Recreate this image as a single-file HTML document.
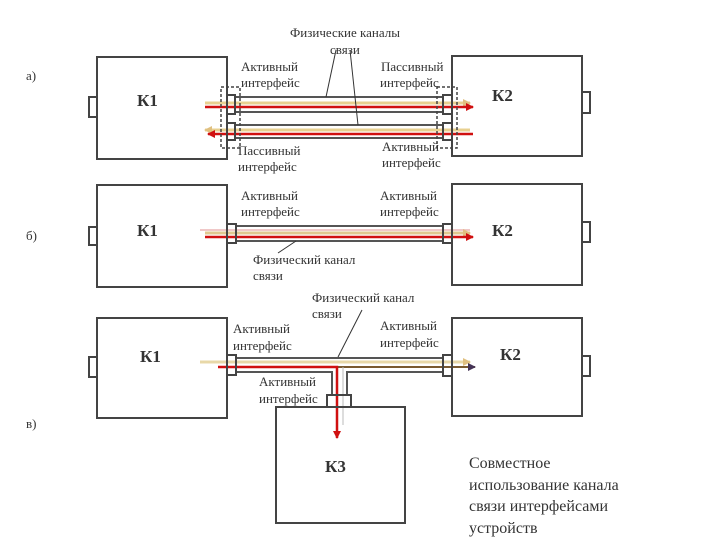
<!DOCTYPE html>
<html><head><meta charset="utf-8"><style>
html,body{margin:0;padding:0;background:#fff;width:720px;height:540px;overflow:hidden}
svg{display:block}
text{font-family:"Liberation Serif",serif;fill:#333}
.l{font-size:13px}
.k{font-size:17px;font-weight:bold}
</style></head><body>
<svg width="720" height="540" viewBox="0 0 720 540">
<defs>
<marker id="ar" markerWidth="8" markerHeight="8" refX="7" refY="4" orient="auto" markerUnits="userSpaceOnUse"><path d="M0,0 L8,4 L0,8 z" fill="#d01010"/></marker>
<marker id="ay" markerWidth="8" markerHeight="8" refX="7" refY="4" orient="auto" markerUnits="userSpaceOnUse"><path d="M0,0 L8,4 L0,8 z" fill="#e0c080"/></marker>
<marker id="ab" markerWidth="8" markerHeight="8" refX="7" refY="4" orient="auto" markerUnits="userSpaceOnUse"><path d="M0,0 L8,4 L0,8 z" fill="#443355"/></marker>
</defs>
<g fill="#fff" stroke="#444" stroke-width="2">
<!-- a -->
<rect x="97" y="57" width="130" height="102"/><rect x="89" y="97" width="8" height="20"/>
<rect x="452" y="56" width="130" height="100"/><rect x="582" y="92" width="8" height="21"/>
<!-- b -->
<rect x="97" y="185" width="130" height="102"/><rect x="89" y="227" width="8" height="18"/>
<rect x="452" y="184" width="130" height="101"/><rect x="582" y="222" width="8" height="20"/>
<!-- c -->
<rect x="97" y="318" width="130" height="100"/><rect x="89" y="357" width="8" height="20"/>
<rect x="452" y="318" width="130" height="98"/><rect x="582" y="356" width="8" height="20"/>
<rect x="276" y="407" width="129" height="116"/>
</g>
<!-- a cables -->
<g stroke="#555" stroke-width="2" fill="none">
<line x1="235" y1="97" x2="443" y2="97"/><line x1="235" y1="112" x2="443" y2="112"/>
<line x1="235" y1="125" x2="443" y2="125"/><line x1="235" y1="138" x2="443" y2="138"/>
</g>
<line x1="205" y1="103" x2="470" y2="103" stroke="#e8d090" stroke-width="3" marker-end="url(#ay)"/>
<line x1="205" y1="107" x2="473" y2="107" stroke="#d01010" stroke-width="2.5" marker-end="url(#ar)"/>
<line x1="470" y1="130" x2="205" y2="130" stroke="#e8d090" stroke-width="3" marker-end="url(#ay)"/>
<line x1="473" y1="134" x2="208" y2="134" stroke="#d01010" stroke-width="2.5" marker-end="url(#ar)"/>
<g fill="none" stroke="#444" stroke-width="2">
<rect x="227" y="95" width="8" height="19"/><rect x="227" y="123" width="8" height="17"/>
<rect x="443" y="95" width="9" height="19"/><rect x="443" y="123" width="9" height="17"/>
</g>
<g fill="none" stroke="#444" stroke-width="1.5" stroke-dasharray="3,2">
<rect x="221" y="87" width="19" height="61"/><rect x="437" y="87" width="20" height="61"/>
</g>
<g stroke="#333" stroke-width="1"><line x1="336" y1="50" x2="326" y2="97"/><line x1="350" y1="50" x2="358" y2="125"/></g>
<!-- b cables -->
<g stroke="#555" stroke-width="2"><line x1="235" y1="226" x2="443" y2="226"/><line x1="235" y1="241" x2="443" y2="241"/></g>
<line x1="200" y1="230" x2="470" y2="230" stroke="#f0c8c8" stroke-width="2"/>
<line x1="205" y1="233" x2="470" y2="233" stroke="#e0c890" stroke-width="3" marker-end="url(#ay)"/>
<line x1="205" y1="237" x2="473" y2="237" stroke="#d01010" stroke-width="2.5" marker-end="url(#ar)"/>
<g fill="none" stroke="#444" stroke-width="2"><rect x="227" y="224" width="9" height="19"/><rect x="443" y="224" width="9" height="19"/></g>
<line x1="296" y1="241" x2="278" y2="253" stroke="#333" stroke-width="1"/>
<!-- c cables -->
<g stroke="#555" stroke-width="2" fill="none">
<line x1="235" y1="358" x2="443" y2="358"/>
<polyline points="235,372 332,372 332,395"/>
<polyline points="443,372 347,372 347,395"/>
</g>
<line x1="200" y1="362" x2="470" y2="362" stroke="#e8d8a8" stroke-width="3" marker-end="url(#ay)"/>
<line x1="235" y1="367" x2="475" y2="367" stroke="#7a5a30" stroke-width="2" marker-end="url(#ab)"/>
<polyline points="218,367 337,367 337,438" fill="none" stroke="#d01010" stroke-width="2.5" marker-end="url(#ar)"/>
<line x1="343" y1="367" x2="343" y2="425" stroke="#bbb" stroke-width="1"/>
<g fill="none" stroke="#444" stroke-width="2"><rect x="227" y="355" width="9" height="20"/><rect x="443" y="355" width="9" height="21"/><rect x="327" y="395" width="24" height="12"/></g>
<line x1="362" y1="310" x2="338" y2="357" stroke="#333" stroke-width="1"/>
<!-- labels -->
<text x="26" y="80" class="l">а)</text>
<text x="26" y="240" class="l">б)</text>
<text x="26" y="428" class="l">в)</text>
<text x="137" y="106" class="k">К1</text><text x="492" y="101" class="k">К2</text>
<text x="137" y="236" class="k">К1</text><text x="492" y="236" class="k">К2</text>
<text x="140" y="362" class="k">К1</text><text x="500" y="360" class="k">К2</text>
<text x="325" y="472" class="k">К3</text>
<text x="290" y="37" class="l">Физические каналы</text><text x="330" y="54" class="l">связи</text>
<text x="241" y="71" class="l">Активный</text><text x="241" y="87" class="l">интерфейс</text>
<text x="381" y="71" class="l">Пассивный</text><text x="380" y="87" class="l">интерфейс</text>
<text x="238" y="155" class="l">Пассивный</text><text x="238" y="171" class="l">интерфейс</text>
<text x="382" y="151" class="l">Активный</text><text x="382" y="167" class="l">интерфейс</text>
<text x="241" y="200" class="l">Активный</text><text x="241" y="216" class="l">интерфейс</text>
<text x="380" y="200" class="l">Активный</text><text x="380" y="216" class="l">интерфейс</text>
<text x="253" y="264" class="l">Физический канал</text><text x="253" y="280" class="l">связи</text>
<text x="312" y="302" class="l">Физический канал</text><text x="312" y="318" class="l">связи</text>
<text x="233" y="333" class="l">Активный</text><text x="233" y="350" class="l">интерфейс</text>
<text x="380" y="330" class="l">Активный</text><text x="380" y="347" class="l">интерфейс</text>
<text x="259" y="386" class="l">Активный</text><text x="259" y="403" class="l">интерфейс</text>
<g style="font-size:16px"><text x="469" y="468">Совместное</text><text x="469" y="490">использование канала</text><text x="469" y="511">связи интерфейсами</text><text x="469" y="533">устройств</text></g>
</svg>
</body></html>
